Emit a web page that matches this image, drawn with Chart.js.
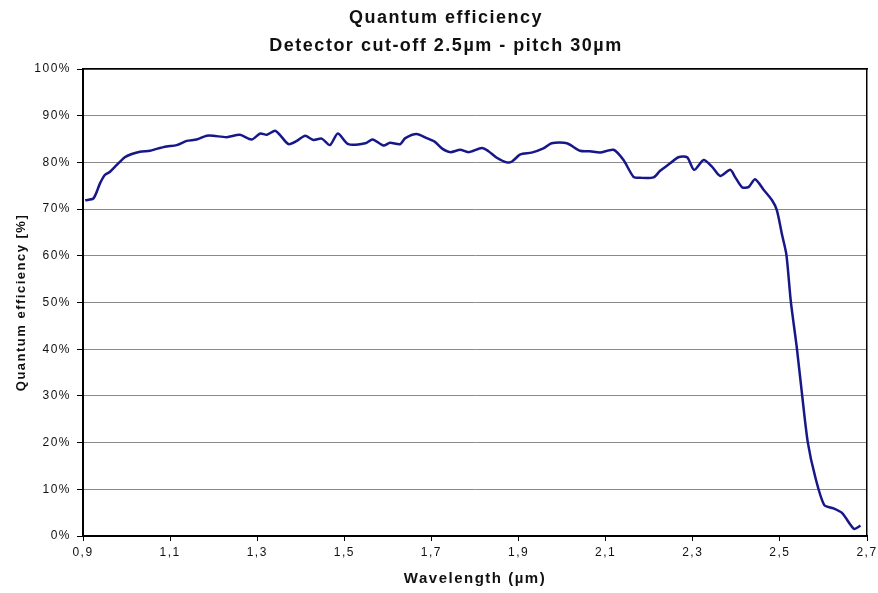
<!DOCTYPE html>
<html>
<head>
<meta charset="utf-8">
<script src="https://cdn.jsdelivr.net/npm/chart.js@4.4.1/dist/chart.umd.min.js"></script>
<style>
  html, body { margin: 0; padding: 0; background: #fff; }
  #wrap { width: 878px; height: 593px; }
</style>
</head>
<body>
<div id="wrap"><canvas id="c" width="878" height="593"></canvas></div>
<script>
const titleLines = ['Quantum efficiency', 'Detector cut-off 2.5µm - pitch 30µm'];
const xAxisTitle = 'Wavelength (µm)';
const yAxisTitle = 'Quantum efficiency [%]';
const xTickMin = 0.9, xTickMax = 2.7, xTickStep = 0.2;
const yTickMin = 0, yTickMax = 100, yTickStep = 10;

const wavelength = [
  0.905, 0.924, 0.939, 0.950, 0.962, 0.977, 0.996, 1.012, 1.031, 1.054,
  1.069, 1.092, 1.115, 1.138, 1.161, 1.184, 1.199, 1.230, 1.260, 1.287,
  1.307, 1.322, 1.341, 1.352, 1.372, 1.391, 1.410, 1.429, 1.448, 1.467,
  1.485, 1.509, 1.548, 1.565, 1.590, 1.605, 1.628, 1.640, 1.666, 1.689,
  1.708, 1.724, 1.743, 1.766, 1.785, 1.816, 1.831, 1.850, 1.873, 1.885,
  1.904, 1.930, 1.957, 1.976, 2.011, 2.041, 2.064, 2.087, 2.118, 2.141,
  2.164, 2.179, 2.210, 2.225, 2.248, 2.267, 2.287, 2.303, 2.325, 2.344,
  2.363, 2.386, 2.397, 2.413, 2.428, 2.443, 2.463, 2.482, 2.493, 2.505,
  2.515, 2.525, 2.539, 2.551, 2.564, 2.581, 2.602, 2.623, 2.643, 2.662,
  2.671, 2.685
];
const efficiency = [
  71.9, 72.3, 75.5, 77.3, 78.0, 79.4, 81.1, 81.8, 82.3, 82.5,
  82.9, 83.4, 83.7, 84.6, 84.9, 85.7, 85.7, 85.4, 85.9, 84.9,
  86.2, 85.9, 86.8, 85.9, 83.9, 84.6, 85.7, 84.8, 85.1, 83.7,
  86.2, 83.9, 84.1, 84.9, 83.6, 84.2, 83.9, 85.2, 86.1, 85.2,
  84.4, 83.0, 82.2, 82.7, 82.2, 83.1, 82.4, 81.0, 80.0, 80.2,
  81.7, 82.1, 83.0, 84.1, 84.1, 82.5, 82.4, 82.1, 82.7, 80.5,
  76.9, 76.7, 76.8, 78.2, 79.8, 81.1, 81.1, 78.4, 80.5, 79.1,
  77.1, 78.4, 76.9, 74.7, 74.7, 76.4, 74.1, 71.9, 69.8, 64.5,
  60.2, 50.3, 40.2, 30.2, 20.1, 12.7, 6.6, 5.9, 4.9, 2.4,
  1.5, 2.2
];

const points = wavelength.map((w, i) => ({ x: w, y: efficiency[i] }));
const FONT = "'Liberation Sans', Arial, sans-serif";

const spacingPlugin = {
  id: 'spacing',
  beforeLayout(chart) { chart.ctx.letterSpacing = '1.5px'; },
  beforeDraw(chart) { chart.ctx.letterSpacing = '1.5px'; }
};

new Chart(document.getElementById('c'), {
  type: 'line',
  data: {
    datasets: [{
      data: points,
      borderColor: '#17178a',
      borderWidth: 2.5,
      pointRadius: 0,
      tension: 0.25,
      fill: false
    }]
  },
  plugins: [spacingPlugin],
  options: {
    responsive: false,
    animation: false,
    devicePixelRatio: 1,
    layout: { padding: { left: 14, right: 0, top: 0, bottom: 0 } },
    plugins: {
      legend: { display: false },
      tooltip: { enabled: false },
      title: {
        display: true,
        text: titleLines,
        color: '#111',
        font: { family: FONT, size: 18, weight: 'bold', lineHeight: 28 / 18 },
        padding: { top: 4, bottom: 9 }
      }
    },
    scales: {
      x: {
        type: 'linear',
        position: 'bottom',
        min: xTickMin, max: xTickMax,
        afterFit(s) { s.height = 57; s.paddingLeft = 0; s.paddingRight = 0; },
        ticks: {
          stepSize: xTickStep,
          padding: 4,
          color: '#111',
          font: { family: FONT, size: 12 },
          maxRotation: 0,
          callback: v => v.toFixed(1).replace('.', ',')
        },
        grid: { drawOnChartArea: false, drawTicks: true, tickLength: 5, tickColor: '#000', tickWidth: 1 },
        border: { display: true, color: '#000', width: 2 },
        title: {
          display: true, text: xAxisTitle, color: '#111',
          font: { family: FONT, size: 15, weight: 'bold', lineHeight: 1.2 },
          padding: { top: 0, bottom: 5 }
        }
      },
      x2: {
        type: 'linear',
        position: 'top',
        min: xTickMin, max: xTickMax,
        afterFit(s) { s.height = 0; s.paddingLeft = 0; s.paddingRight = 0; },
        ticks: { display: false },
        grid: { color: 'transparent', drawTicks: false },
        border: { display: true, color: '#000', width: 1.5 }
      },
      y: {
        type: 'linear',
        position: 'left',
        min: yTickMin, max: yTickMax,
        afterFit(s) { s.width = 69; },
        ticks: {
          stepSize: yTickStep,
          padding: 6,
          color: '#111',
          font: { family: FONT, size: 12 },
          callback: v => v + '%'
        },
        grid: { color: '#8a8a8a', lineWidth: 1, drawTicks: true, tickLength: 6, tickColor: '#000', tickWidth: 1 },
        border: { display: true, color: '#000', width: 2 },
        title: {
          display: true, text: yAxisTitle, color: '#111',
          font: { family: FONT, size: 13, weight: 'bold', lineHeight: 1.2 },
          padding: { top: 0, bottom: 0 }
        }
      },
      y2: {
        type: 'linear',
        position: 'right',
        min: yTickMin, max: yTickMax,
        afterFit(s) { s.width = 11; },
        ticks: { display: false },
        grid: { color: 'transparent', drawTicks: false },
        border: { display: true, color: '#000', width: 1.5 }
      }
    }
  }
});
</script>
</body>
</html>
